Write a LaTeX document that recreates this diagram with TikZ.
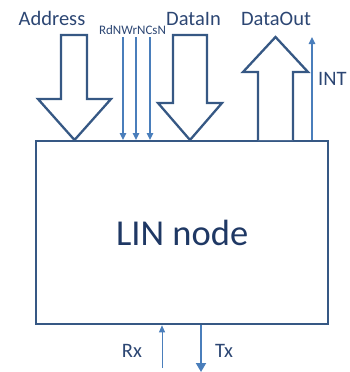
\documentclass[tikz,border=0pt]{standalone}
\usepackage{fontspec}
\setmainfont{Carlito}
\usetikzlibrary{arrows.meta}
\definecolor{outl}{HTML}{365884}
\definecolor{thin}{HTML}{4A7EBB}
\definecolor{lbl}{HTML}{2C4673}
\definecolor{title}{HTML}{1F3864}
\tikzset{
  blockarrow/.style={draw=outl, line width=2.3pt, line join=miter, fill=white},
  sigarrow/.style={draw=thin, line width=1.3pt, -{Triangle[length=7pt,width=6.5pt]}},
  finesig/.style={draw=thin, line width=0.8pt, -{Triangle[length=7pt,width=6pt]}},
  bigsig/.style={draw=thin, line width=1.8pt, -{Triangle[length=9pt,width=10pt]}},
  lab/.style={text=lbl, font=\fontsize{20.5}{23}\selectfont, inner sep=0pt},
  smalllab/.style={text=lbl, font=\fontsize{13}{15}\selectfont, inner sep=0pt}
}
\begin{document}
\begin{tikzpicture}[x=1pt,y=-1pt]
\useasboundingbox (0,0) rectangle (350,372);
% main box
\node[draw=outl, line width=2.3pt, minimum width=292, minimum height=183, anchor=north west, inner sep=0pt] (box) at (35,140) {};
\node[text=title, font=\fontsize{36.5}{40}\selectfont] (title) at (box.center) {LIN node};
% block arrows
\draw[blockarrow] (61,35) -- (87,35) -- (87,99) -- (111,99) -- (74.5,140) -- (38,99) -- (61,99) -- cycle;
\draw[blockarrow] (173,35) -- (207,35) -- (207,103) -- (222,103) -- (190,140) -- (158,103) -- (173,103) -- cycle;
\draw[blockarrow] (258,140) -- (258,72) -- (243,72) -- (275.5,37) -- (308,72) -- (293,72) -- (293,140);
% labels
\node[lab, anchor=base] (addr) at (52,25) {Address};
\node[smalllab, anchor=base] (ctl) at (132.5,34) {RdNWrNCsN};
\node[lab, anchor=base] (din) at (193.5,25) {DataIn};
\node[lab, anchor=base] (dout) at (276,25) {DataOut};
\node[lab, anchor=base west] (intl) at (318,85) {INT};
\node[lab, anchor=base] (rxl) at (132,357) {Rx};
\node[lab, anchor=base] (txl) at (224,357) {Tx};
% control signals
\coordinate (c1) at (123,37);
\coordinate (c2) at (136,37);
\coordinate (c3) at (150,37);
\draw[sigarrow] (c1) -- (c1 |- box.north);
\draw[sigarrow] (c2) -- (c2 |- box.north);
\draw[sigarrow] (c3) -- (c3 |- box.north);
% INT
\coordinate (intb) at (312,140);
\coordinate (intt) at (312,37);
\draw[sigarrow] (intb) -- (intt);
% Rx / Tx
\coordinate (rxs) at (162,368);
\draw[finesig] (rxs) -- (rxs |- box.south);
\coordinate (txe) at (201,372);
\draw[bigsig] (txe |- box.south) -- (txe);
\end{tikzpicture}
\end{document}
